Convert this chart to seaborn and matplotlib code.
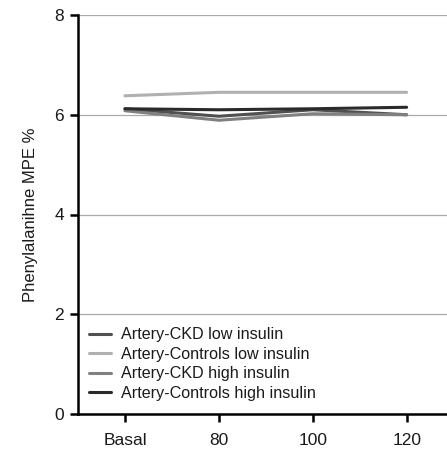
import matplotlib
matplotlib.use("Agg")
import matplotlib.pyplot as plt
import seaborn as sns
import pandas as pd

timepoints = ["Basal", "80", "100", "120"]
series_names = ["Artery-CKD low insulin", "Artery-Controls low insulin",
                "Artery-CKD high insulin", "Artery-Controls high insulin"]
ckd_low = [6.12, 5.97, 6.10, 6.00]
controls_low = [6.38, 6.45, 6.45, 6.45]
ckd_high = [6.08, 5.89, 6.02, 6.00]
controls_high = [6.12, 6.10, 6.12, 6.15]
colors = ["#505050", "#b0b0b0", "#808080", "#2a2a2a"]

rows = []
for name, vals in zip(series_names, [ckd_low, controls_low, ckd_high, controls_high]):
    for t, v in zip(timepoints, vals):
        rows.append({"time": t, "value": v, "series": name})
df = pd.DataFrame(rows)
df["x"] = df["time"].map({t: i for i, t in enumerate(timepoints)})

sns.set_style("white")
plt.rcParams["font.family"] = ["Liberation Sans", "DejaVu Sans"]

fig = plt.figure(figsize=(4.47, 4.53), dpi=100)
ax = fig.add_axes([78/447, 1-414/453, 1-78/447, (414-15)/453])

sns.lineplot(data=df, x="x", y="value", hue="series", hue_order=series_names,
             palette=colors, linewidth=2.2, ax=ax, sort=False)

ax.set_xlim(-0.5, 3.43)
ax.set_ylim(0, 8)
ax.set_xticks(range(len(timepoints)))
ax.set_xticklabels(timepoints)
ax.set_yticks([0, 2, 4, 6, 8])
ax.yaxis.grid(True, color="#aaaaaa", linewidth=0.9)
ax.set_axisbelow(True)
for s in ["top", "right"]:
    ax.spines[s].set_visible(False)
for s in ["left", "bottom"]:
    ax.spines[s].set_color("black")
    ax.spines[s].set_linewidth(1.8)
ax.tick_params(axis="both", bottom=True, left=True, direction="out", length=6,
               width=1.8, color="black", labelsize=12.5, labelcolor="#1a1a1a", pad=4)
ax.tick_params(axis="x", pad=8)
ax.set_xlabel("")
ax.set_ylabel("Phenylalanihne MPE %", fontsize=12, labelpad=12, color="#1a1a1a")

leg = ax.legend(loc="lower left", bbox_to_anchor=(0.0, 0.005), frameon=False,
                fontsize=11.6, handlelength=1.35, handletextpad=0.6,
                labelspacing=0.28, borderaxespad=0.3)
for t in leg.get_texts():
    t.set_color("#1a1a1a")

fig.savefig("out.png", dpi=100)
